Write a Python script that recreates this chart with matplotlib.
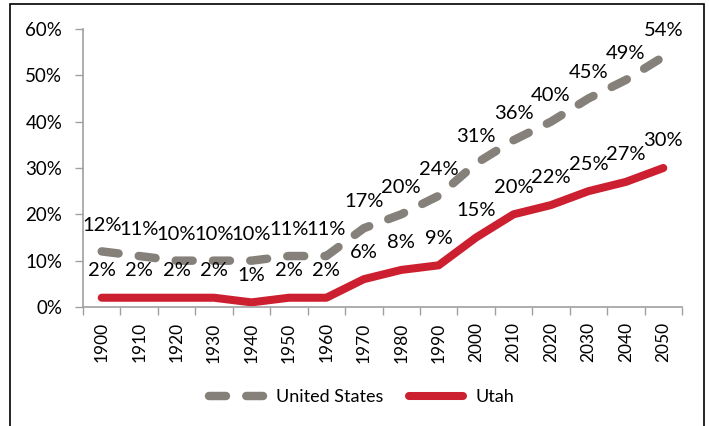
import numpy as np
import matplotlib
matplotlib.use("Agg")
import matplotlib.pyplot as plt
from matplotlib.patches import Rectangle

plt.rcParams['font.family'] = ['Lato', 'DejaVu Sans']

years = ['1900', '1910', '1920', '1930', '1940', '1950', '1960', '1970',
         '1980', '1990', '2000', '2010', '2020', '2030', '2040', '2050']
us = [12, 11, 10, 10, 10, 11, 11, 17, 20, 24, 31, 36, 40, 45, 49, 54]
utah = [2, 2, 2, 2, 1, 2, 2, 6, 8, 9, 15, 20, 22, 25, 27, 30]

gray = '#85817a'
red = '#cc1f2f'

fig = plt.figure(figsize=(7.09, 4.26), dpi=100)
ax = fig.add_axes([83/709, 1-307/426, (682-83)/709, (307-29)/426])

x = np.arange(len(years))
us_v = np.array(us) / 100.0
ut_v = np.array(utah) / 100.0

l1, = ax.plot(x, us_v, color=gray, lw=6.1, dashes=(2.0, 2.4),
              dash_capstyle='round', solid_capstyle='round', label='United States')
l2, = ax.plot(x, ut_v, color=red, lw=5.8, solid_capstyle='round',
              solid_joinstyle='round', label='Utah')

for i in range(len(years)):
    ax.annotate('%d%%' % us[i], (x[i], us_v[i]), xytext=(0, 19),
                textcoords='offset points', ha='center', va='center', fontsize=14.5)
    ax.annotate('%d%%' % utah[i], (x[i], ut_v[i]), xytext=(0, 19.5),
                textcoords='offset points', ha='center', va='center', fontsize=14.5)

ax.set_xlim(-0.5, len(years) - 0.5)
ax.set_ylim(0, 0.6)
ax.set_yticks(np.arange(0, 0.61, 0.1))
ax.set_yticklabels(['%d%%' % v for v in range(0, 61, 10)], fontsize=13.5)
ax.set_xticks(x)
ax.set_xticklabels(years, rotation=90, fontsize=12.5)
ax.set_xticks(np.arange(-0.5, len(years)), minor=True)
ax.tick_params(axis='x', which='major', length=0, pad=11)
ax.tick_params(axis='x', which='minor', length=6, color='#a0a0a0', width=1)
ax.tick_params(axis='y', length=6, color='#a0a0a0', width=1, pad=9)

for s in ['top', 'right']:
    ax.spines[s].set_visible(False)
for s in ['left', 'bottom']:
    ax.spines[s].set_color('#a0a0a0')
    ax.spines[s].set_linewidth(1.2)

fig.legend(handles=[l1, l2], loc='center', bbox_to_anchor=(0.51, 0.068), ncol=2,
           frameon=False, fontsize=13, handlelength=3.0, handletextpad=0.7,
           columnspacing=1.4)

fig.patches.append(Rectangle((10/709, -0.1), (704-10)/709, 1.1 - 4/426,
                             transform=fig.transFigure, fill=False,
                             edgecolor='black', lw=1.2))

fig.savefig('out.png', dpi=100)
